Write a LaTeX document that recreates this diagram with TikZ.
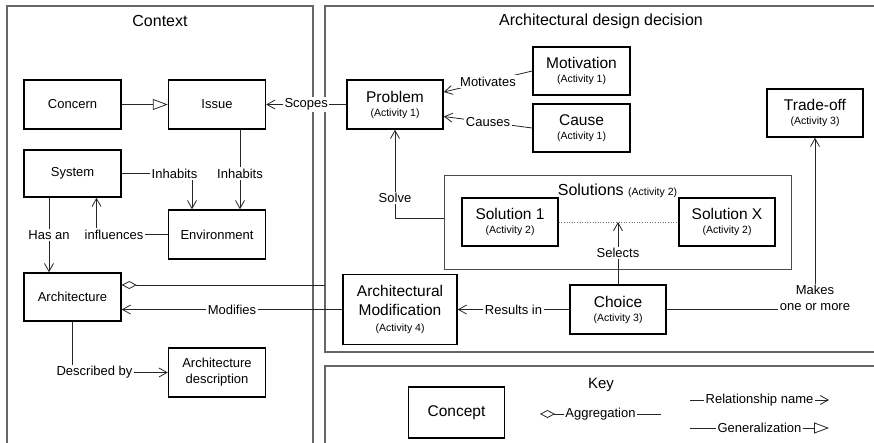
\documentclass[tikz,border=0pt]{standalone}
\usepackage{fontspec}
\setmainfont{Liberation Sans}
\usetikzlibrary{arrows.meta}
\newcommand{\actf}{\fontsize{10.5}{12}\selectfont}
\begin{document}
\begin{tikzpicture}[x=1pt,y=-1pt,
  frame/.style={draw=black!60, line width=1.2pt},
  cbox/.style={draw, line width=1.5pt, minimum width=97pt, minimum height=49pt, inner sep=1pt, align=center, font=\fontsize{13}{16}\selectfont},
  abox/.style={cbox, minimum width=96pt, font=\fontsize{15.5}{17}\selectfont},
  rel/.style={draw=black!85, line width=0.8pt, -{Straight Barb[length=8pt,width=9pt]}},
  plain/.style={draw=black!85, line width=0.8pt},
  gen/.style={draw=black!85, line width=0.8pt, -{Triangle[open,length=15pt,width=11pt]}},
  agg/.style={draw=black!85, line width=0.8pt, {Diamond[open,length=15pt,width=8pt]}-},
  lbl/.style={fill=white, inner sep=1.5pt, font=\fontsize{13}{15}\selectfont, text=black, align=center},
  ttl/.style={font=\fontsize{16}{18}\selectfont}
]
\clip (0,0) rectangle (874,442);
\fill[white] (0,0) rectangle (874,442);
% frames
\draw[frame] (7,6) rectangle (313,460);
\draw[frame] (325,6) rectangle (890,352);
\draw[frame] (325,366) rectangle (890,460);
\node[ttl] (tctx) at (160,21) {Context};
\node[ttl] (tadd) at (601,21) {Architectural design decision};
\node[ttl, font=\fontsize{15}{17}\selectfont] (tkey) at (601,385) {Key};

% context nodes
\node[cbox] (concern) at (72.5,104.5) {Concern};
\node[cbox] (issue) at (217,104.5) {Issue};
\node[cbox, minimum height=47pt] (system) at (72.5,173.5) {System};
\node[cbox] (env) at (217,234.5) {Environment};
\node[cbox, minimum height=48pt] (arch) at (72.5,297) {Architecture};
\node[cbox] (archdesc) at (217,372.5) {Architecture\\description};

% ADD nodes
\node[abox] (problem) at (395,104.5) {Problem\\[-3pt]{\actf (Activity 1)}};
\node[abox, minimum width=97pt, minimum height=48pt] (motivation) at (581.5,71) {Motivation\\[-3pt]{\actf (Activity 1)}};
\node[abox, minimum width=97pt, minimum height=48pt] (cause) at (581.5,128) {Cause\\[-3pt]{\actf (Activity 1)}};
\node[abox, minimum height=48pt] (tradeoff) at (815,113) {Trade-off\\[-3pt]{\actf (Activity 3)}};
\node[draw=black!70, line width=1pt, minimum width=347pt, minimum height=94pt, inner sep=0] (solbox) at (617.5,222) {};
\node[ttl] (tsol) at (617.5,191) {Solutions {\actf (Activity 2)}};
\node[abox, minimum height=48pt] (sol1) at (510,222) {Solution 1\\[-3pt]{\actf (Activity 2)}};
\node[abox, minimum height=48pt] (solx) at (727,222) {Solution X\\[-3pt]{\actf (Activity 2)}};
\node[abox, minimum height=49pt] (choice) at (618,309.5) {Choice\\[-3pt]{\actf (Activity 3)}};
\node[abox, minimum width=114pt, minimum height=70pt, font=\fontsize{15.5}{19}\selectfont] (archmod) at (400,309.5) {Architectural\\Modification\\[-3pt]{\actf (Activity 4)}};

% key nodes
\node[abox, minimum height=51pt] (concept) at (456.5,412.5) {Concept};
\coordinate (ka1) at (540,414);
\coordinate (ka2) at (661,414);
\coordinate (kr1) at (690,400);
\coordinate (kr2) at (829,400);
\coordinate (kg1) at (690,428);
\coordinate (kg2) at (829,428);
\draw[agg] (ka1) -- (ka2) node[lbl, midway] (lagg) {Aggregation};
\draw[rel] (kr1) -- (kr2) node[lbl, midway] (lrel) {Relationship name};
\draw[gen] (kg1) -- (kg2) node[lbl, midway] (lgen) {Generalization};

% context connectors
\draw[gen] (concern) -- (issue);
\draw[rel] (system.east) -| ([xshift=-25pt]env.north);
\node[lbl] (linh1) at (174.5,173.5) {Inhabits};
\draw[rel] ([xshift=23pt]issue.south) -- ([xshift=23pt]env.north) node[lbl, pos=0.55] (linh2) {Inhabits};
\draw[rel] (env.west) -| ([xshift=24pt]system.south);
\node[lbl] (linf) at (114,234.5) {influences};
\draw[rel] ([xshift=-23.5pt]system.south) -- ([xshift=-23.5pt]arch.north) node[lbl, midway] (lhas) {Has an};
\draw[rel] (arch.south) |- (archdesc.west);
\node[lbl] (ldesc) at (94.5,372.5) {Described by};

% cross connectors
\coordinate (aggend) at (325,285);
\draw[agg] (arch.east |- aggend) -- (aggend);
\draw[rel] (archmod.west) -- (arch.east |- archmod.west) node[lbl, midway] (lmod) {Modifies};
\draw[rel] (problem.west) -- (issue.east) node[lbl, pos=0.5] (lscope) {Scopes};

% ADD connectors
\draw[rel] (motivation.west) -- ([yshift=12.5pt]problem.east) node[lbl, midway] (lmot) {Motivates};
\draw[rel] (cause.west) -- ([yshift=-12pt]problem.east) node[lbl, midway] (lcau) {Causes};
\draw[rel] ([yshift=4pt]solbox.west) -| (problem.south);
\node[lbl] (lsolve) at (395,198) {Solve};
\draw[black!55, line width=0.6pt, dotted] (sol1.east) -- (solx.west);
\draw[rel] (choice.north) -- (choice.north |- sol1.east) node[lbl, pos=0.5] (lsel) {Selects};
\draw[rel] (choice.west) -- (archmod.east) node[lbl, midway] (lres) {Results in};
\draw[rel] (choice.east) -| (tradeoff.south);
\node[lbl, font=\fontsize{13}{16}\selectfont] (lmake) at (815,298) {Makes\\one or more};
\end{tikzpicture}
\end{document}
